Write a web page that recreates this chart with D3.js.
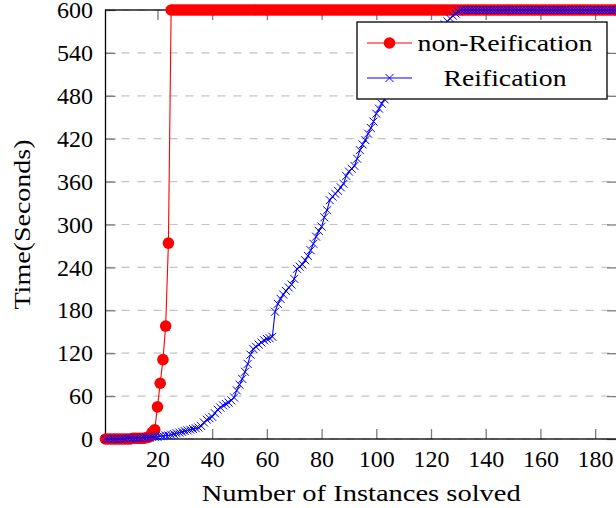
<!DOCTYPE html>
<html>
<head>
<meta charset="utf-8">
<script src="https://cdn.jsdelivr.net/npm/d3@7"></script>
<style>
  html, body { margin: 0; padding: 0; background: #fff; }
  svg { display: block; }
</style>
</head>
<body>
<svg id="chart" width="616" height="508"></svg>
<script>
// ---------------- data ----------------
const seriesNames = ["non-Reification", "Reification"];
const xTicks = [20, 40, 60, 80, 100, 120, 140, 160, 180];
const yTicks = [0, 60, 120, 180, 240, 300, 360, 420, 480, 540, 600];
const xTitle = "Number of Instances solved";
const yTitle = "Time(Seconds)";

// time (s) for instance 1..188, non-Reification
const nonReification = [
  0, 0, 0, 0, 0, 0, 0, 0, 0, 0, 1, 1, 1, 1, 1, 2, 3, 9, 13, 45,
  78, 111, 158, 274,
  600, 600, 600, 600, 600, 600, 600, 600, 600, 600, 600, 600, 600, 600, 600, 600, 600, 600, 600, 600,
  600, 600, 600, 600, 600, 600, 600, 600, 600, 600, 600, 600, 600, 600, 600, 600, 600, 600, 600, 600,
  600, 600, 600, 600, 600, 600, 600, 600, 600, 600, 600, 600, 600, 600, 600, 600, 600, 600, 600, 600,
  600, 600, 600, 600, 600, 600, 600, 600, 600, 600, 600, 600, 600, 600, 600, 600, 600, 600, 600, 600,
  600, 600, 600, 600, 600, 600, 600, 600, 600, 600, 600, 600, 600, 600, 600, 600, 600, 600, 600, 600,
  600, 600, 600, 600, 600, 600, 600, 600, 600, 600, 600, 600, 600, 600, 600, 600, 600, 600, 600, 600,
  600, 600, 600, 600, 600, 600, 600, 600, 600, 600, 600, 600, 600, 600, 600, 600, 600, 600, 600, 600,
  600, 600, 600, 600, 600, 600, 600, 600, 600, 600, 600, 600, 600, 600, 600, 600, 600, 600, 600, 600,
  600, 600, 600, 600
];

// time (s) for instance 1..188, Reification
const reification = [
  0, 0, 0, 0, 0, 0, 0, 0, 1, 1, 1, 1, 1, 1, 2, 2, 2, 3, 3, 3,
  4, 4, 5, 5, 6, 7, 8, 9, 10, 11, 12, 13, 14, 15, 16, 18, 23, 27, 29, 31,
  36, 41, 44, 47, 49, 51, 54, 58, 68, 76, 84, 94, 105, 118, 126, 129, 132, 135, 138, 140,
  141, 143, 178, 189, 196, 202, 207, 212, 216, 224, 238, 241, 244, 250, 256, 264, 273, 283, 291, 297,
  310, 320, 334, 339, 343, 347, 352, 357, 368, 374, 378, 382, 392, 404, 412, 418, 427, 435, 444, 455,
  462, 469, 475, 481, 486, 491, 496, 500, 505, 510, 515, 519, 524, 529, 534, 538, 543, 548, 553, 557,
  562, 566, 571, 575, 580, 584, 588, 592, 595, 598,
  600, 600, 600, 600, 600, 600, 600, 600, 600, 600, 600, 600, 600, 600, 600, 600, 600, 600, 600, 600,
  600, 600, 600, 600, 600, 600, 600, 600, 600, 600, 600, 600, 600, 600, 600, 600, 600, 600, 600, 600,
  600, 600, 600, 600, 600, 600, 600, 600, 600, 600, 600, 600, 600, 600, 600, 600, 600, 600
];

// ---------------- drawing ----------------
const svg = d3.select("#chart");
const pLeft = 105.5, pRight = 617, pTop = 10, pBottom = 439;
const FS = "24px";
const SERIF = "'Liberation Serif'";

const x = d3.scaleLinear().domain([1, 188]).range([pLeft, pRight]);
const y = d3.scaleLinear().domain([0, 600]).range([pBottom, pTop]);

// grid
svg.append("g")
  .selectAll("line")
  .data(yTicks)
  .join("line")
  .attr("x1", pLeft).attr("x2", pRight)
  .attr("y1", d => y(d)).attr("y2", d => y(d))
  .attr("stroke", "#c4c4c4")
  .attr("stroke-width", 1.2)
  .attr("stroke-dasharray", "8,8");

function styleAxis(g) {
  g.select(".domain").remove();
  g.selectAll(".tick line").attr("stroke", "#7a7a7a").attr("stroke-width", 1.3);
  g.selectAll(".tick text")
    .style("font-family", SERIF).style("font-size", FS).attr("fill", "#000");
}

svg.append("g")
  .attr("transform", `translate(0,${pBottom})`)
  .call(d3.axisBottom(x).tickValues(xTicks).tickSize(-10).tickPadding(11).tickFormat(d3.format("d")))
  .call(styleAxis);

svg.append("g")
  .attr("transform", `translate(0,${pTop})`)
  .call(d3.axisTop(x).tickValues(xTicks).tickSize(-10).tickFormat(""))
  .call(styleAxis);

svg.append("g")
  .attr("transform", `translate(${pLeft},0)`)
  .call(d3.axisLeft(y).tickValues(yTicks).tickSize(-10).tickPadding(12.5).tickFormat(d3.format("d")))
  .call(styleAxis);

svg.append("g")
  .attr("transform", `translate(${pRight},0)`)
  .call(d3.axisRight(y).tickValues(yTicks).tickSize(-10).tickFormat(""))
  .call(styleAxis);

// frame
svg.append("rect")
  .attr("x", pLeft).attr("y", pTop)
  .attr("width", pRight - pLeft).attr("height", pBottom - pTop)
  .attr("fill", "none").attr("stroke", "#000").attr("stroke-width", 1.3);

const line = d3.line().x((d, i) => x(i + 1)).y(d => y(d));

// non-Reification
svg.append("path")
  .datum(nonReification)
  .attr("d", line)
  .attr("fill", "none").attr("stroke", "#ff0000").attr("stroke-width", 1.1);
svg.append("g")
  .selectAll("circle")
  .data(nonReification)
  .join("circle")
  .attr("cx", (d, i) => x(i + 1)).attr("cy", d => y(d))
  .attr("r", 5.8)
  .attr("fill", "#ff0000");

// Reification
const crossPath = "M-4,-4L4,4M-4,4L4,-4";
svg.append("path")
  .datum(reification)
  .attr("d", line)
  .attr("fill", "none").attr("stroke", "#0000ff").attr("stroke-width", 1.1);
svg.append("g")
  .selectAll("path")
  .data(reification)
  .join("path")
  .attr("transform", (d, i) => `translate(${x(i + 1)},${y(d)})`)
  .attr("d", crossPath)
  .attr("fill", "none").attr("stroke", "#0000ff").attr("stroke-width", 1);

// axis titles
svg.append("text")
  .attr("x", (pLeft + pRight) / 2).attr("y", 501)
  .attr("text-anchor", "middle")
  .style("font-family", SERIF).style("font-size", FS)
  .attr("textLength", 319).attr("lengthAdjust", "spacingAndGlyphs")
  .text(xTitle);

svg.append("text")
  .attr("transform", `translate(30,${(pTop + pBottom) / 2}) rotate(-90)`)
  .attr("text-anchor", "middle")
  .style("font-family", SERIF).style("font-size", FS)
  .attr("textLength", 170).attr("lengthAdjust", "spacingAndGlyphs")
  .text(yTitle);

// legend
const lg = svg.append("g");
lg.append("rect")
  .attr("x", 357).attr("y", 22).attr("width", 250).attr("height", 77)
  .attr("fill", "#fff").attr("stroke", "#000").attr("stroke-width", 1.3);
const rows = [
  { name: seriesNames[0], color: "#ff0000", mark: "circle", ty: 43, len: 175 },
  { name: seriesNames[1], color: "#0000ff", mark: "cross", ty: 78, len: 123 }
];
rows.forEach(r => {
  lg.append("line")
    .attr("x1", 367).attr("x2", 412).attr("y1", r.ty).attr("y2", r.ty)
    .attr("stroke", r.color).attr("stroke-width", 1.1);
  if (r.mark === "circle") {
    lg.append("circle").attr("cx", 389.5).attr("cy", r.ty).attr("r", 5.8).attr("fill", r.color);
  } else {
    lg.append("path").attr("transform", `translate(389.5,${r.ty})`).attr("d", crossPath)
      .attr("fill", "none").attr("stroke", r.color).attr("stroke-width", 1);
  }
  lg.append("text")
    .attr("x", 505).attr("y", r.ty + 8)
    .attr("text-anchor", "middle")
    .style("font-family", SERIF).style("font-size", FS)
    .attr("textLength", r.len).attr("lengthAdjust", "spacingAndGlyphs")
    .text(r.name);
});
</script>
</body>
</html>
